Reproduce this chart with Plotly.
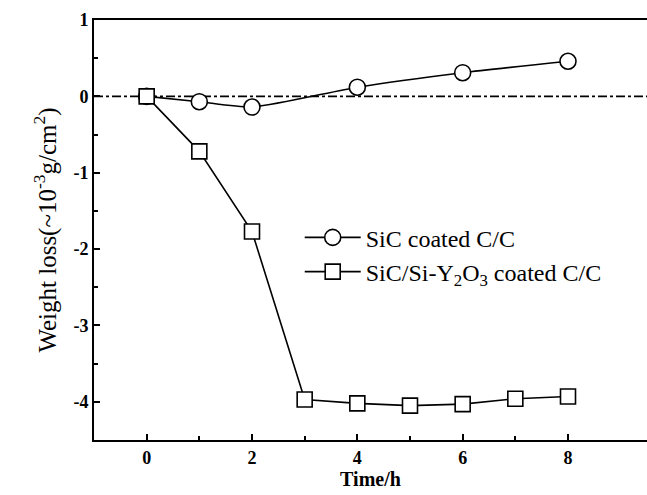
import plotly.graph_objects as go

# Oxidation time (h) and weight change (x10^-3 g/cm^2)
time_sic = [0, 1, 2, 4, 6, 8]
loss_sic = [0.0, -0.07, -0.14, 0.12, 0.31, 0.46]

time_y2o3 = [0, 1, 2, 3, 4, 5, 6, 7, 8]
loss_y2o3 = [0.0, -0.72, -1.77, -3.97, -4.02, -4.05, -4.03, -3.96, -3.93]

x_ticks = [0, 2, 4, 6, 8]
y_ticks = [1, 0, -1, -2, -3, -4]

FONT = "Liberation Serif"

fig = go.Figure()

fig.add_trace(go.Scatter(
    x=time_sic, y=loss_sic, mode="lines+markers", name="SiC coated C/C",
    line=dict(color="black", width=1.6, shape="spline", smoothing=0.6),
    marker=dict(symbol="circle", size=16, color="white",
                line=dict(color="black", width=1.6)),
))
fig.add_trace(go.Scatter(
    x=time_y2o3, y=loss_y2o3, mode="lines+markers",
    name="SiC/Si-Y<sub>2</sub>O<sub>3</sub> coated C/C",
    line=dict(color="black", width=1.6),
    marker=dict(symbol="square", size=15, color="white",
                line=dict(color="black", width=1.6)),
))

# zero reference line
fig.add_shape(type="line", xref="paper", x0=0, x1=1, yref="y", y0=0, y1=0,
              line=dict(color="black", width=1.6, dash="dashdot"), layer="below")

fig.update_layout(
    width=647, height=495,
    margin=dict(l=94, r=0, t=20, b=55),
    paper_bgcolor="white", plot_bgcolor="white",
    font=dict(family=FONT, color="black", size=18),
    showlegend=True,
    legend=dict(x=0.372, y=0.535, xanchor="left", yanchor="top",
                bgcolor="rgba(0,0,0,0)", font=dict(size=24, family=FONT),
                tracegroupgap=0, itemwidth=56),
)

fig.update_xaxes(
    range=[-1, 9.5], tickvals=x_ticks, ticktext=[f"<b>{v}</b>" for v in x_ticks],
    showgrid=False, zeroline=False,
    showline=True, linecolor="black", linewidth=2, mirror=True,
    ticks="inside", ticklen=6, tickwidth=2, tickcolor="black",
    minor=dict(tickvals=[1, 3, 5, 7], ticks="inside", ticklen=4, tickwidth=2, tickcolor="black"),
    tickfont=dict(size=18, family=FONT),
    title=dict(text="<b>Time/h</b>", font=dict(size=20, family=FONT), standoff=4),
)
fig.update_yaxes(
    range=[-4.5, 1], tickvals=y_ticks, ticktext=[f"<b>{v}</b>" for v in y_ticks],
    showgrid=False, zeroline=False,
    showline=True, linecolor="black", linewidth=2, mirror=False,
    ticks="inside", ticklen=6, tickwidth=2, tickcolor="black",
    minor=dict(tickvals=[0.5, -0.5, -1.5, -2.5, -3.5], ticks="inside",
               ticklen=4, tickwidth=2, tickcolor="black"),
    tickfont=dict(size=18, family=FONT),
    title=dict(text="Weight loss(~10<sup>-3</sup>g/cm<sup>2</sup>)",
               font=dict(size=25, family=FONT), standoff=10),
)

fig.write_html("out.html")
